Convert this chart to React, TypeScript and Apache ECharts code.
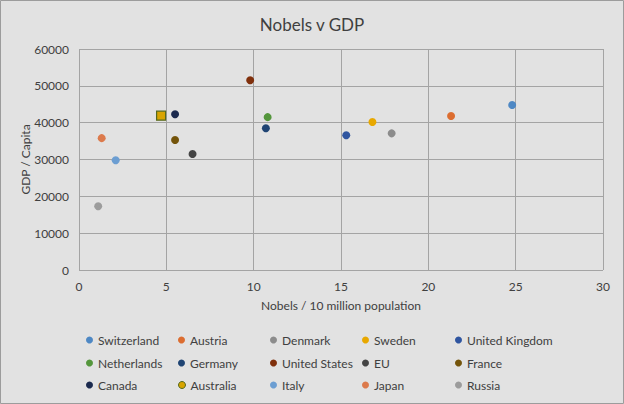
import { useEffect, useRef } from 'react';
import * as echarts from 'echarts';

const countries = [
  'Switzerland', 'Austria', 'Denmark', 'Sweden', 'United Kingdom',
  'Netherlands', 'Germany', 'United States', 'EU', 'France',
  'Canada', 'Australia', 'Italy', 'Japan', 'Russia',
];
// Nobel laureates per 10 million population
const nobels = [24.8, 21.3, 17.9, 16.8, 15.3, 10.8, 10.7, 9.8, 6.5, 5.5, 5.5, 4.7, 2.1, 1.3, 1.1];
const gdpPerCapita = [44800, 41800, 37100, 40200, 36600, 41500, 38500, 51500, 31500, 35300, 42300, 41900, 29800, 35800, 17300];

const COLORS = [
  '#4e88c4', '#dc6d30', '#8c8c8c', '#e8a800', '#2f55a0',
  '#54963c', '#1f4473', '#80300c', '#454545', '#74540a',
  '#1b2a4e', '#d8a400', '#6c9ed2', '#dc7a4c', '#9c9c9c',
];

const FONT = 'Lato, "Open Sans", sans-serif';
const LEGEND_X = [86, 178, 270, 362, 455];
const LEGEND_Y = [334, 357, 379];

export default function App() {
  const ref = useRef<HTMLDivElement>(null);

  useEffect(() => {
    document.body.style.margin = '0';
    if (!ref.current) return;
    const chart = echarts.init(ref.current, undefined, { renderer: 'svg' });

    const isAus = (name: string) => name === 'Australia';

    const series = countries.map((name, i) => ({
      name,
      type: 'scatter',
      data: [[nobels[i], gdpPerCapita[i]]],
      symbol: isAus(name) ? 'rect' : 'circle',
      symbolSize: isAus(name) ? 9 : 8,
      itemStyle: isAus(name)
        ? { color: COLORS[i], borderColor: '#55691e', borderWidth: 1.2, opacity: 1 }
        : { color: COLORS[i], opacity: 1 },
    }));

    const legends = countries.map((name, i) => ({
      data: [
        {
          name,
          icon: 'circle',
          itemStyle: isAus(name)
            ? { color: COLORS[i], borderColor: '#55691e', borderWidth: 1, opacity: 1 }
            : { color: COLORS[i], borderWidth: 0, opacity: 1 },
        },
      ],
      left: LEGEND_X[i % 5],
      top: LEGEND_Y[Math.floor(i / 5)],
      itemWidth: 7,
      itemHeight: 7,
      padding: 0,
      selectedMode: false,
      textStyle: { color: '#404040', fontSize: 12, fontFamily: FONT },
    }));

    chart.setOption({
      animation: false,
      backgroundColor: '#e2e2e2',
      title: {
        text: 'Nobels v GDP',
        left: 'center',
        top: 11,
        textStyle: { color: '#404040', fontSize: 17, fontWeight: 'normal', fontFamily: FONT },
      },
      graphic: [
        {
          type: 'rect',
          shape: { x: 0.5, y: 0.5, width: 623, height: 403 },
          style: { fill: 'none', stroke: '#9c9c9c', lineWidth: 1 },
          silent: true,
        },
      ],
      legend: legends,
      grid: { left: 79, right: 21, top: 49, bottom: 134 },
      xAxis: {
        type: 'value',
        min: 0,
        max: 30,
        interval: 5,
        name: 'Nobels / 10 million population',
        nameLocation: 'middle',
        nameGap: 29,
        nameTextStyle: { color: '#404040', fontSize: 12, fontFamily: FONT },
        axisLine: { show: false },
        axisTick: { show: false },
        axisLabel: { color: '#404040', fontSize: 12, fontFamily: FONT, margin: 10 },
        splitLine: { lineStyle: { color: '#a4a4a4' } },
      },
      yAxis: {
        type: 'value',
        min: 0,
        max: 60000,
        interval: 10000,
        name: 'GDP / Capita',
        nameLocation: 'middle',
        nameGap: 48,
        nameMoveOverlap: false,
        nameTextStyle: { color: '#404040', fontSize: 12, fontFamily: FONT },
        axisLine: { show: false },
        axisTick: { show: false },
        axisLabel: {
          color: '#404040',
          fontSize: 12,
          fontFamily: FONT,
          margin: 10,
          formatter: (v: number) => String(v),
        },
        splitLine: { lineStyle: { color: '#a4a4a4' } },
      },
      series,
    });

    return () => chart.dispose();
  }, []);

  return <div ref={ref} style={{ width: 624, height: 404 }} />;
}
